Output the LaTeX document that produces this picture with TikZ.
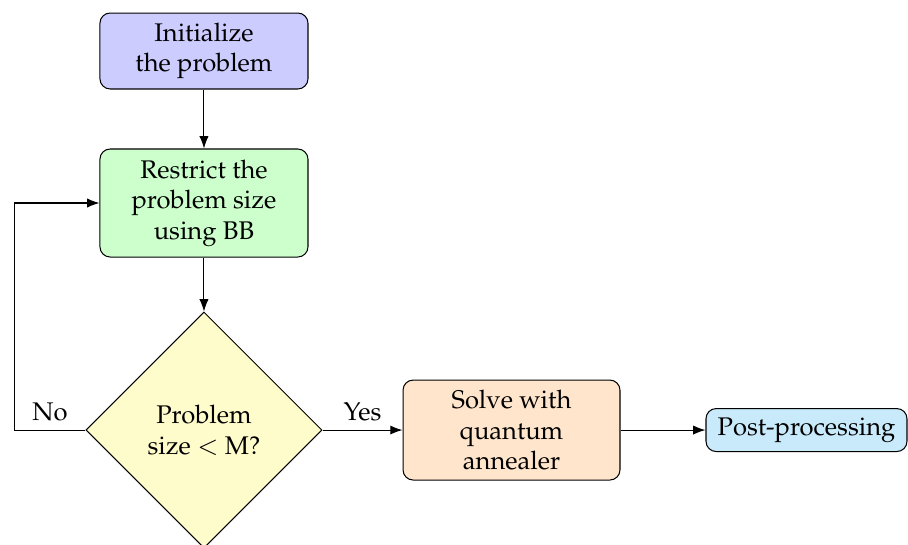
\documentclass[tikz,border=0pt]{standalone}
\usepackage[T1]{fontenc}
\usepackage{mathpazo}
\usepackage{tikz}
\usetikzlibrary{shapes,arrows,arrows.meta,positioning}
\definecolor{postblue}{RGB}{200,234,250}

\begin{document}
\begin{tikzpicture}[block/.style={draw, rounded corners, align=center, inner sep=2pt},
                   decision/.style={draw, diamond, aspect=1, align=center, inner sep=0pt, minimum size=3.25cm, fill=yellow!20},
                   line/.style={draw, -Latex}]
\useasboundingbox (0,0) rectangle (12.5,-7.489);
\node[block, fill=blue!20, minimum width=2.864cm, minimum height=1.046cm] (init) at (2.808,-0.702) {Initialize\\the problem};
\node[block, fill=green!20, minimum width=2.864cm, minimum height=1.487cm, below=0.812cm of init] (restrict) {Restrict the\\problem size\\using BB};
\node[decision, below=0.743cm of restrict] (check) {Problem\\size $<$ M?};
\node[block, fill=orange!20, minimum width=2.987cm, minimum height=1.377cm, right=1.101cm of check] (solve) {Solve with\\quantum\\annealer};
\node[block, fill=postblue, minimum width=2.767cm, minimum height=0.592cm, right=1.17cm of solve] (post) {Post-processing};
\coordinate[left=0.977cm of check.west] (loop);
\path[line] (init) -- (restrict);
\path[line] (restrict) -- (check);
\path[line] (check) -- node[above] {Yes} (solve);
\path[line] (solve) -- (post);
\path[line] (check.west) -- node[above] {No} (loop) |- (restrict);
\end{tikzpicture}
\end{document}
